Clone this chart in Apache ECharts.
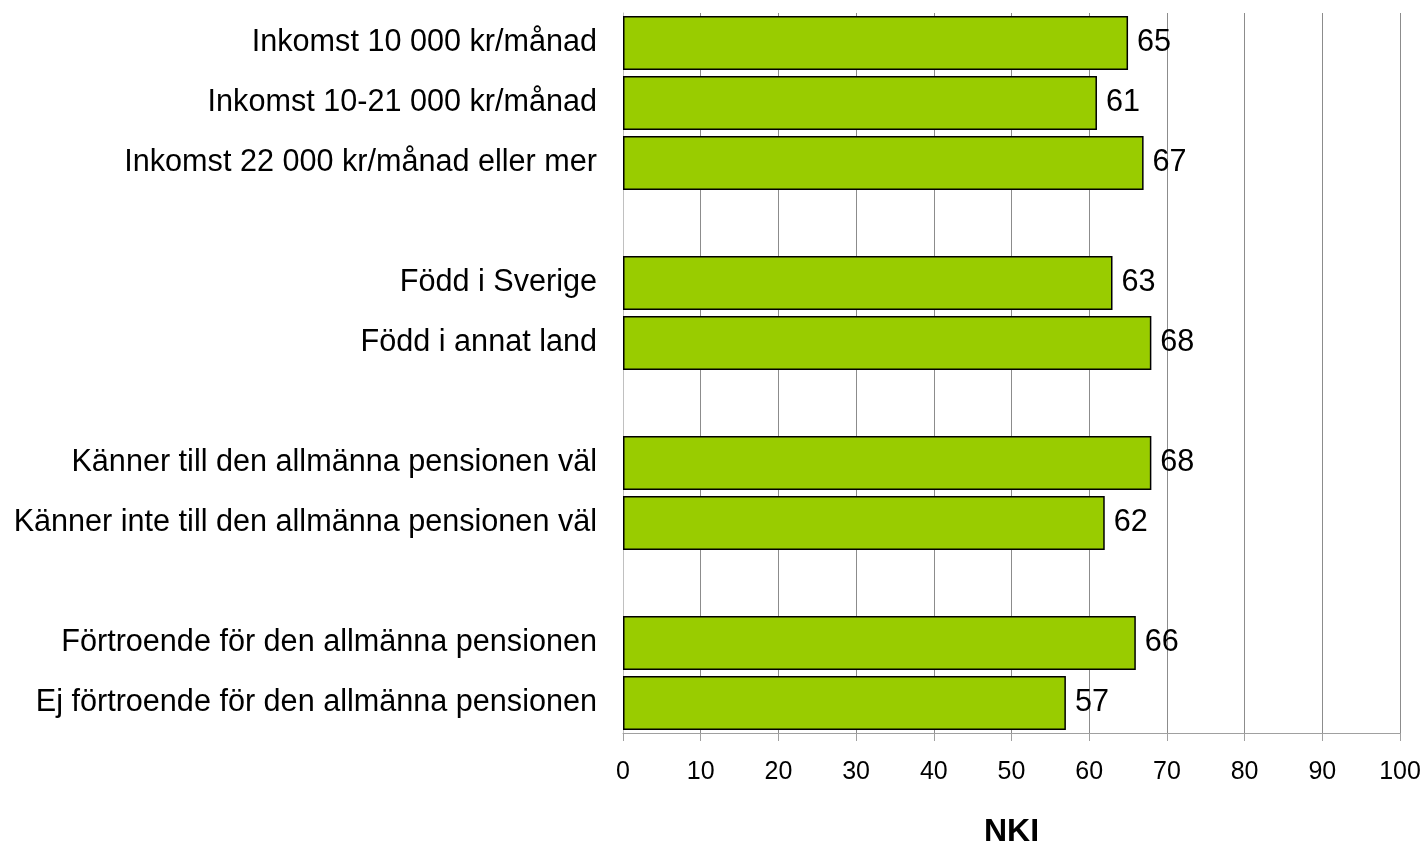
<!DOCTYPE html>
<html>
<head>
<meta charset="utf-8">
<script src="https://cdn.jsdelivr.net/npm/echarts@6/dist/echarts.min.js"></script>
<style>
  html, body { margin: 0; padding: 0; background: #fff; }
  #chart { width: 1424px; height: 843px; }
</style>
</head>
<body>
<div id="chart"></div>
<script>
// Groups are separated by empty slots on the category axis.
const categories = [
  'Inkomst 10 000 kr/månad',
  'Inkomst 10-21 000 kr/månad',
  'Inkomst 22 000 kr/månad eller mer',
  '',
  'Född i Sverige',
  'Född i annat land',
  '',
  'Känner till den allmänna pensionen väl',
  'Känner inte till den allmänna pensionen väl',
  '',
  'Förtroende för den allmänna pensionen',
  'Ej förtroende för den allmänna pensionen'
];
const nkiValues = [65, 61, 67, null, 63, 68, null, 68, 62, null, 66, 57];
const axisTitle = 'NKI';
const fontFamily = '"Liberation Sans", Arial, Helvetica, sans-serif';

const chart = echarts.init(document.getElementById('chart'), null, { renderer: 'canvas' });
chart.setOption({
  animation: false,
  backgroundColor: '#ffffff',
  grid: {
    left: 623, right: 24, top: 13, bottom: 110,
    containLabel: false,
    outerBoundsMode: 'none'
  },
  xAxis: {
    type: 'value',
    min: 0,
    max: 100,
    interval: 10,
    name: axisTitle,
    nameLocation: 'middle',
    nameGap: 83,
    nameTextStyle: { fontFamily, fontSize: 32, fontWeight: 'bold', color: '#000' },
    axisLine: { show: true, lineStyle: { color: '#a0a0a0', width: 1 } },
    axisTick: { show: true, length: 8, lineStyle: { color: '#a0a0a0' } },
    axisLabel: { fontFamily, fontSize: 25, color: '#000', margin: 27 },
    splitLine: { show: true, lineStyle: { color: '#8c8c8c', width: 1 } }
  },
  yAxis: {
    type: 'category',
    data: categories,
    inverse: true,
    axisLine: { show: true, lineStyle: { color: '#c0c0c0', width: 1 } },
    axisTick: { show: false },
    axisLabel: { fontFamily, fontSize: 30.6, color: '#000', margin: 26, padding: [8, 0, 0, 0] },
    splitLine: { show: false }
  },
  series: [{
    type: 'bar',
    data: nkiValues,
    barCategoryGap: '10%',
    itemStyle: { color: '#99cc00', borderColor: '#000', borderWidth: 1.5 },
    label: {
      show: true,
      position: 'right',
      distance: 9,
      fontFamily,
      fontSize: 30.6,
      color: '#000',
      padding: [8, 0, 0, 0]
    }
  }]
});
</script>
</body>
</html>
